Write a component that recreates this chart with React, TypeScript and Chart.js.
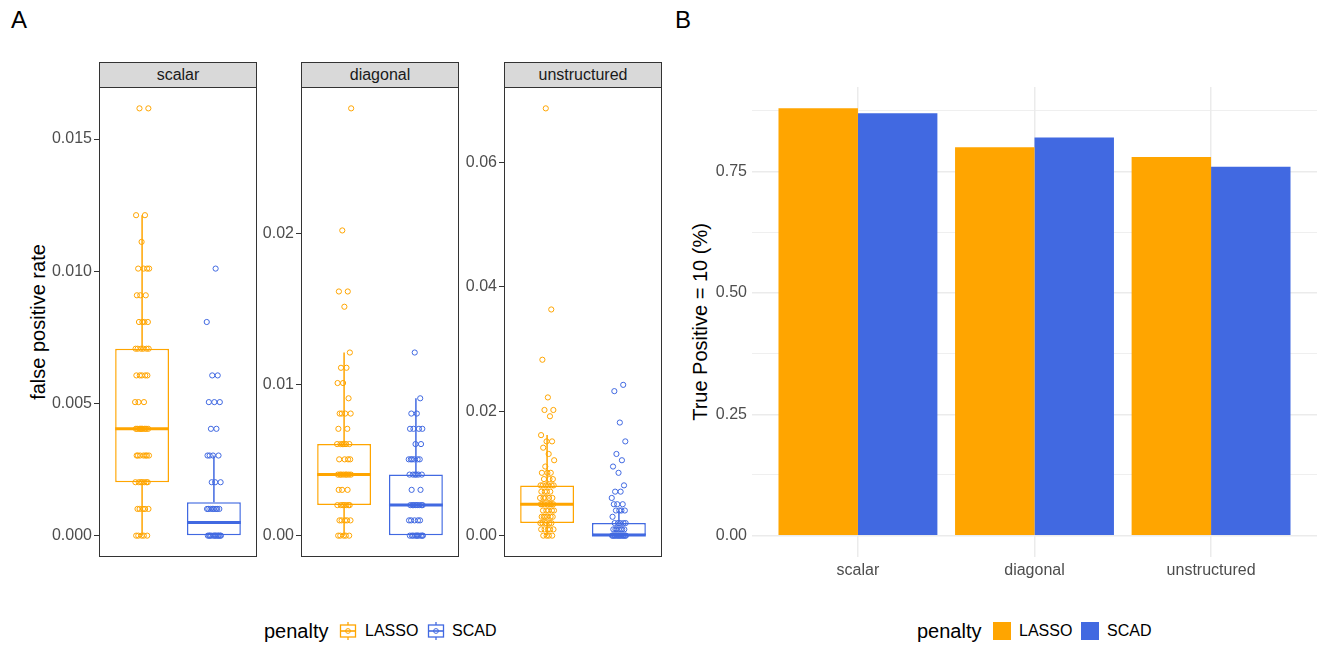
import React, { useEffect, useRef } from 'react';
import { Chart, registerables } from 'chart.js';

Chart.register(...registerables);

const ORANGE = '#FFA500';
const BLUE = '#4169E1';
const FONT = '"Liberation Sans", Arial, Helvetica, sans-serif';
const TICK_COLOR = '#4D4D4D';
const TICK_SIZE = 16;
const TITLE_SIZE = 20;

const penalties = ['LASSO', 'SCAD'];
const structures = ['scalar', 'diagonal', 'unstructured'];

// ---------- Panel A: false positive rate (distinct values and number of replicates at each) ----------
const scalarLassoValues = [0, 0.00101, 0.00202, 0.00303, 0.00404, 0.00505, 0.00606, 0.00707, 0.00808, 0.00909, 0.0101, 0.01111, 0.01212, 0.01616];
const scalarLassoCounts = [5, 5, 7, 7, 9, 3, 5, 6, 4, 3, 4, 1, 2, 2];
const scalarScadValues = [0, 0.00101, 0.00202, 0.00303, 0.00404, 0.00505, 0.00606, 0.00808, 0.0101];
const scalarScadCounts = [12, 8, 3, 4, 2, 3, 2, 1, 1];

const diagonalLassoValues = [0, 0.00101, 0.00202, 0.00303, 0.00404, 0.00505, 0.00606, 0.00707, 0.00808, 0.00909, 0.0101, 0.01111, 0.01212, 0.01515, 0.01616, 0.0202, 0.02828];
const diagonalLassoCounts = [5, 5, 7, 3, 8, 4, 6, 2, 4, 1, 2, 2, 1, 1, 2, 1, 1];
const diagonalScadValues = [0, 0.00101, 0.00202, 0.00303, 0.00404, 0.00505, 0.00606, 0.00707, 0.00808, 0.00909, 0.01212];
const diagonalScadCounts = [10, 5, 8, 2, 6, 6, 2, 4, 2, 1, 1];

const unstructuredLassoValues = [0, 0.00101, 0.00202, 0.00303, 0.00404, 0.00505, 0.00606, 0.00707, 0.00808, 0.00909, 0.0101, 0.01111, 0.01212, 0.01313, 0.01414, 0.01515, 0.01616, 0.01919, 0.0202, 0.02222, 0.02828, 0.03636, 0.06869];
const unstructuredLassoCounts = [4, 5, 5, 6, 5, 7, 5, 4, 6, 3, 3, 1, 1, 1, 1, 2, 1, 1, 2, 1, 1, 1, 1];
const unstructuredScadValues = [0, 0.00101, 0.00202, 0.00303, 0.00404, 0.00505, 0.00606, 0.00707, 0.00808, 0.0101, 0.01111, 0.01212, 0.01313, 0.01515, 0.01818, 0.02323, 0.02424];
const unstructuredScadCounts = [14, 7, 5, 1, 4, 3, 1, 2, 1, 1, 1, 1, 1, 1, 1, 1, 1];

// box statistics: [lower whisker, Q1, median, Q3, upper whisker]
const scalarLassoBox = [0, 0.00202, 0.00404, 0.00707, 0.01212];
const scalarScadBox = [0, 0, 0.0005, 0.00126, 0.00303];
const diagonalLassoBox = [0, 0.00202, 0.00404, 0.00606, 0.01212];
const diagonalScadBox = [0, 0, 0.00202, 0.00404, 0.00909];
const unstructuredLassoBox = [0, 0.00202, 0.00505, 0.00808, 0.01616];
const unstructuredScadBox = [0, 0, 0.0001, 0.00202, 0.00404];

const scalarTicks = [0, 0.005, 0.01, 0.015];
const scalarTickLabels = ['0.000', '0.005', '0.010', '0.015'];
const diagonalTicks = [0, 0.01, 0.02];
const diagonalTickLabels = ['0.00', '0.01', '0.02'];
const unstructuredTicks = [0, 0.02, 0.04, 0.06];
const unstructuredTickLabels = ['0.00', '0.02', '0.04', '0.06'];

// ---------- Panel B: true positive ----------
const truePositiveLasso = [0.88, 0.8, 0.78];
const truePositiveScad = [0.87, 0.82, 0.76];
const barTicks = [0, 0.25, 0.5, 0.75];
const barTickLabels = ['0.00', '0.25', '0.50', '0.75'];
const barMinorTicks = [0.125, 0.375, 0.625, 0.875];

// style constants
const BOX_WIDTH = 0.75;
const JITTER = 0.1;
const PANEL_TOP = 87;
const PANEL_H = 470;

type Group = { values: number[]; counts: number[]; box: number[] };

function FacetChart(props: {
  chartLeft: number;
  axisWidth: number;
  groups: Group[];
  ticks: number[];
  tickLabels: string[];
}) {
  const ref = useRef<HTMLCanvasElement>(null);
  const panelW = 158;
  const w = props.axisWidth + panelW;
  useEffect(() => {
    const canvas = ref.current as HTMLCanvasElement;
    const { groups, ticks, tickLabels, axisWidth } = props;
    const colors = [ORANGE, BLUE];
    const allVals = groups.flatMap((g) => g.values);
    const maxV = Math.max(...allVals);
    const minV = Math.min(...allVals);
    const pad = (maxV - minV) * 0.05;
    const datasets: any[] = [];
    groups.forEach((g, gi) => {
      const cx = gi + 1;
      const color = colors[gi];
      const pts: { x: number; y: number }[] = [];
      let n = 0;
      g.values.forEach((v, vi) => {
        for (let j = 0; j < g.counts[vi]; j++) {
          n += 1;
          const frac = (n * 0.6180339887 + 0.37 * gi) % 1;
          pts.push({ x: cx + (frac - 0.5) * 2 * JITTER, y: v });
        }
      });
      const [lo, q1, med, q3, hi] = g.box;
      datasets.push({
        type: 'scatter',
        label: penalties[gi],
        data: pts,
        order: 0,
        pointStyle: 'circle',
        pointRadius: 2.6,
        pointBorderWidth: 1,
        borderColor: color,
        pointBorderColor: color,
        backgroundColor: 'rgba(0,0,0,0)',
        pointBackgroundColor: 'rgba(0,0,0,0)',
      });
      const lineBase = {
        type: 'line',
        borderColor: color,
        pointRadius: 0,
        fill: false,
        tension: 0,
        order: 1,
      };
      datasets.push({ ...lineBase, data: [{ x: cx, y: q3 }, { x: cx, y: hi }], borderWidth: 1.5 });
      datasets.push({ ...lineBase, data: [{ x: cx, y: lo }, { x: cx, y: q1 }], borderWidth: 1.5 });
      datasets.push({
        ...lineBase,
        data: [
          { x: cx - BOX_WIDTH / 2, y: med },
          { x: cx + BOX_WIDTH / 2, y: med },
        ],
        borderWidth: 3,
        borderCapStyle: 'butt',
      });
    });
    datasets.push({
      type: 'bar',
      data: groups.map((g, gi) => ({ x: gi + 1, y: [g.box[1], g.box[3]] })),
      backgroundColor: '#FFFFFF',
      borderColor: colors,
      borderWidth: 1.5,
      borderSkipped: false,
      barPercentage: BOX_WIDTH,
      categoryPercentage: 1,
      order: 2,
    });

    const chart = new Chart(canvas, {
      type: 'bar',
      data: { datasets },
      options: {
        animation: false,
        responsive: false,
        events: [],
        layout: { autoPadding: false, padding: 0 },
        plugins: { legend: { display: false }, tooltip: { enabled: false } },
        scales: {
          x: {
            type: 'linear',
            min: 0.4,
            max: 2.6,
            offset: false,
            bounds: 'data',
            display: false,
            afterBuildTicks: (s: any) => {
              s.ticks = groups.map((_, i) => ({ value: i + 1 }));
            },
          },
          y: {
            type: 'linear',
            min: minV - pad,
            max: maxV + pad,
            bounds: 'data',
            afterBuildTicks: (s: any) => {
              s.ticks = ticks.map((v) => ({ value: v }));
            },
            afterFit: (s: any) => {
              s.width = axisWidth;
              s.paddingTop = 0;
              s.paddingBottom = 0;
            },
            ticks: {
              callback: (_v: any, i: number) => tickLabels[i],
              color: TICK_COLOR,
              font: { family: FONT, size: TICK_SIZE },
              padding: 2,
              autoSkip: false,
            },
            grid: {
              display: true,
              drawOnChartArea: false,
              drawTicks: true,
              tickLength: 5,
              tickColor: '#333333',
              tickWidth: 1,
            },
            border: { display: false },
          },
        },
      } as any,
    });
    return () => chart.destroy();
  }, []);
  return (
    <canvas
      ref={ref}
      width={w}
      height={PANEL_H}
      style={{ position: 'absolute', left: props.chartLeft - props.axisWidth, top: PANEL_TOP, width: w, height: PANEL_H }}
    />
  );
}

function BarChartB() {
  const ref = useRef<HTMLCanvasElement>(null);
  const left = 680;
  const axisW = 72;
  const w = 637;
  const xAxisH = 40;
  const h = PANEL_H + xAxisH;
  useEffect(() => {
    const canvas = ref.current as HTMLCanvasElement;
    const allTicks = [...barTicks, ...barMinorTicks].sort((a, b) => a - b);
    const chart = new Chart(canvas, {
      type: 'bar',
      data: {
        datasets: [
          {
            label: penalties[0],
            data: structures.map((_, i) => ({ x: i + 1, y: truePositiveLasso[i] })),
            backgroundColor: ORANGE,
            borderWidth: 0,
            categoryPercentage: 0.9,
            barPercentage: 1,
          },
          {
            label: penalties[1],
            data: structures.map((_, i) => ({ x: i + 1, y: truePositiveScad[i] })),
            backgroundColor: BLUE,
            borderWidth: 0,
            categoryPercentage: 0.9,
            barPercentage: 1,
          },
        ],
      },
      options: {
        animation: false,
        responsive: false,
        events: [],
        layout: { autoPadding: false, padding: 0 },
        plugins: { legend: { display: false }, tooltip: { enabled: false } },
        scales: {
          x: {
            type: 'linear',
            min: 0.4,
            max: 3.6,
            offset: false,
            bounds: 'data',
            afterBuildTicks: (s: any) => {
              s.ticks = structures.map((_, i) => ({ value: i + 1 }));
            },
            afterFit: (s: any) => {
              s.height = xAxisH;
              s.paddingLeft = 0;
              s.paddingRight = 0;
            },
            ticks: {
              callback: (_v: any, i: number) => structures[i],
              color: TICK_COLOR,
              font: { family: FONT, size: TICK_SIZE },
              padding: 4,
              maxRotation: 0,
              autoSkip: false,
            },
            grid: { color: '#EBEBEB', lineWidth: 1.5, drawTicks: false, offset: false },
            border: { display: false },
          },
          y: {
            type: 'linear',
            min: -0.044,
            max: 0.924,
            bounds: 'data',
            afterBuildTicks: (s: any) => {
              s.ticks = allTicks.map((v) => ({ value: v }));
            },
            afterFit: (s: any) => {
              s.width = axisW;
              s.paddingTop = 0;
              s.paddingBottom = 0;
            },
            ticks: {
              callback: (v: any) => {
                const k = barTicks.indexOf(v);
                return k >= 0 ? barTickLabels[k] : '';
              },
              color: TICK_COLOR,
              font: { family: FONT, size: TICK_SIZE },
              padding: 5,
              autoSkip: false,
            },
            grid: {
              color: '#EBEBEB',
              lineWidth: (ctx: any) => (barTicks.indexOf(ctx.tick?.value) >= 0 ? 1.5 : 0.8),
              drawTicks: false,
            },
            border: { display: false },
          },
        },
      } as any,
    });
    return () => chart.destroy();
  }, []);
  return (
    <canvas
      ref={ref}
      width={w}
      height={h}
      style={{ position: 'absolute', left, top: PANEL_TOP, width: w, height: h }}
    />
  );
}

function BoxKey({ color }: { color: string }) {
  return (
    <svg width={18} height={18} style={{ display: 'block' }}>
      <line x1={9} y1={0} x2={9} y2={3} stroke={color} strokeWidth={1.3} />
      <line x1={9} y1={15} x2={9} y2={18} stroke={color} strokeWidth={1.3} />
      <rect x={1.5} y={3} width={15} height={12} fill="#fff" stroke={color} strokeWidth={1.3} />
      <line x1={1.5} y1={9} x2={16.5} y2={9} stroke={color} strokeWidth={1.6} />
      <circle cx={9} cy={9} r={2.4} fill="none" stroke={color} strokeWidth={1} />
    </svg>
  );
}

const abs = (l: number, t: number, extra: any = {}) => ({ position: 'absolute' as const, left: l, top: t, ...extra });

export default function App() {
  const facets = [
    { name: structures[0], left: 99, axisWidth: 59, groups: [
      { values: scalarLassoValues, counts: scalarLassoCounts, box: scalarLassoBox },
      { values: scalarScadValues, counts: scalarScadCounts, box: scalarScadBox },
    ], ticks: scalarTicks, tickLabels: scalarTickLabels },
    { name: structures[1], left: 301, axisWidth: 44, groups: [
      { values: diagonalLassoValues, counts: diagonalLassoCounts, box: diagonalLassoBox },
      { values: diagonalScadValues, counts: diagonalScadCounts, box: diagonalScadBox },
    ], ticks: diagonalTicks, tickLabels: diagonalTickLabels },
    { name: structures[2], left: 504, axisWidth: 44, groups: [
      { values: unstructuredLassoValues, counts: unstructuredLassoCounts, box: unstructuredLassoBox },
      { values: unstructuredScadValues, counts: unstructuredScadCounts, box: unstructuredScadBox },
    ], ticks: unstructuredTicks, tickLabels: unstructuredTickLabels },
  ];
  const centerText = (cx: number, cy: number, size: number, color: string, rotate = false) => ({
    position: 'absolute' as const,
    left: cx,
    top: cy,
    transform: `translate(-50%, -50%)${rotate ? ' rotate(-90deg)' : ''}`,
    fontSize: size,
    lineHeight: 1,
    color,
    whiteSpace: 'nowrap' as const,
  });
  const leftText = (l: number, cy: number, size: number) => ({
    position: 'absolute' as const,
    left: l,
    top: cy,
    transform: 'translate(0, -50%)',
    fontSize: size,
    lineHeight: 1,
    color: '#000',
    whiteSpace: 'nowrap' as const,
  });
  return (
    <div style={{ position: 'absolute', left: 0, top: 0, width: 1321, height: 645, background: '#fff', fontFamily: FONT, overflow: 'hidden' }}>
      <div style={leftText(11, 20, 24)}>A</div>
      <div style={leftText(675, 20, 24)}>B</div>

      <div style={centerText(38, 322, TITLE_SIZE, '#000', true)}>false positive rate</div>

      {facets.map((f) => (
        <React.Fragment key={f.name}>
          <FacetChart chartLeft={f.left} axisWidth={f.axisWidth} groups={f.groups} ticks={f.ticks} tickLabels={f.tickLabels} />
          <div style={abs(f.left, 62, { width: 158, height: 26, boxSizing: 'border-box', border: '1px solid #333', background: '#D9D9D9' })} />
          <div style={centerText(f.left + 79, 75, TICK_SIZE, '#1A1A1A')}>{f.name}</div>
          <div style={abs(f.left, PANEL_TOP, { width: 158, height: PANEL_H, boxSizing: 'border-box', border: '1px solid #333', pointerEvents: 'none' })} />
        </React.Fragment>
      ))}

      <div style={leftText(264, 631, TITLE_SIZE)}>penalty</div>
      <div style={abs(339, 622)}><BoxKey color={ORANGE} /></div>
      <div style={leftText(365, 631, TICK_SIZE)}>{penalties[0]}</div>
      <div style={abs(427, 622)}><BoxKey color={BLUE} /></div>
      <div style={leftText(452, 631, TICK_SIZE)}>{penalties[1]}</div>

      <div style={centerText(700, 322, TITLE_SIZE, '#000', true)}>True Positive = 10 (%)</div>
      <BarChartB />

      <div style={leftText(917, 631, TITLE_SIZE)}>penalty</div>
      <div style={abs(993, 622, { width: 18, height: 18, background: ORANGE })} />
      <div style={leftText(1019, 631, TICK_SIZE)}>{penalties[0]}</div>
      <div style={abs(1081, 622, { width: 18, height: 18, background: BLUE })} />
      <div style={leftText(1107, 631, TICK_SIZE)}>{penalties[1]}</div>
    </div>
  );
}
